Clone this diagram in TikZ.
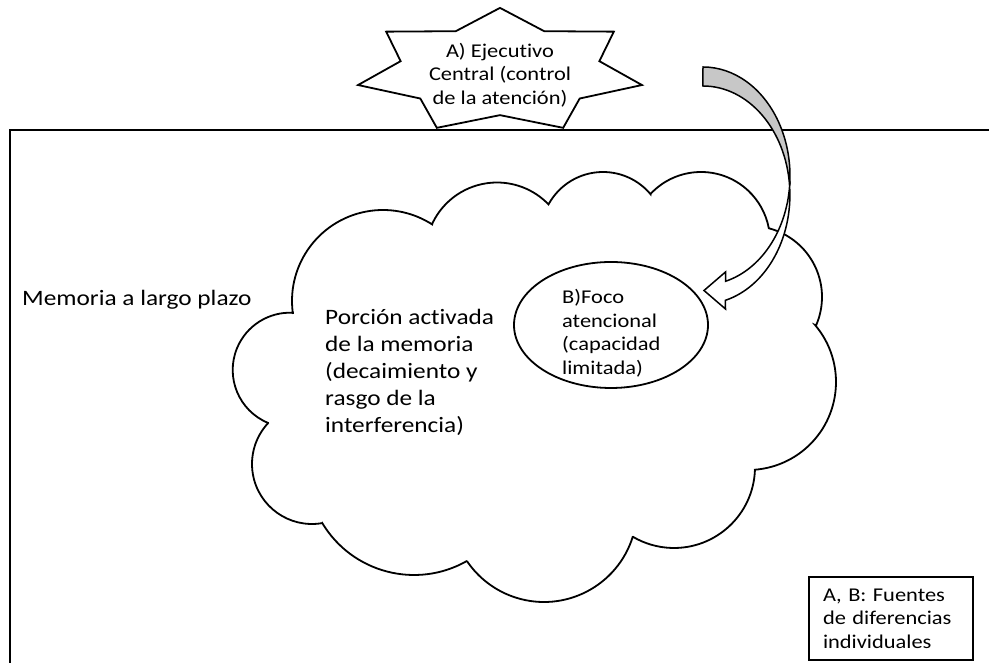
\documentclass[tikz,border=0pt]{standalone}
\usepackage{fontspec}
\setmainfont{Carlito}[FakeStretch=1.15, Ligatures=NoCommon]
\usetikzlibrary{shapes.geometric}

\tikzset{
    small/.style={font=\fontsize{19.5}{23.5}\selectfont, align=left, inner sep=0pt},
    big/.style={font=\fontsize{22}{27}\selectfont, align=left, inner sep=0pt},
    outline/.style={line width=1.8pt, black},
    puffarc/.style={outline, fill=white},
}

\begin{document}
\begin{tikzpicture}[x=1pt, y=1pt]
        \useasboundingbox (0,0) rectangle (989,663);
        \draw[outline, line width=2.2pt] (10,-20) -- (10,533) -- (1010,533);
        \node[big, anchor=base west] at (22, 357)(largo){Memoria a largo plazo};

        % nube
        \draw[puffarc] (293,350)
        \foreach \cx/\cy/\rad/\sa/\ea in {383/362/91/187.6/57.3, 497/409/71.5/154.2/43.9,
            603/429/62/150.9/39.8, 701/422/69/136.8/10.8, 751/366/71/75.4/-23.6,
            748/281/88/40.4/-85.5, 674/196/81/-2.1/-120.4, 544/154/93/-17.5/-146,
            414/195/107/-60.3/-149.1, 312/199/60/279.6/137, 290/293/57.3/247.5/87}
        { -- ([shift={(\sa:\rad)}]\cx,\cy) arc[start angle=\sa, end angle=\ea, radius=\rad] } -- cycle;
        \node[big, anchor=west] at (325, 291)(porcion){Porción activada\\de la memoria\\(decaimiento y\\rasgo de la\\interferencia)};

        % estrella
        \begin{scope}[shift={(500,592)}, x=145.6pt, y=63.1pt]
            \draw[outline, fill=white] (90:1)
            \foreach \k in {0,...,6} { -- ({90+\k*360/7}:1) -- ({90+(\k+0.5)*360/7}:0.7) } -- cycle;
        \end{scope}
        \node[small, align=center] at (500, 588)(ejecutivo){A) Ejecutivo\\Central (control\\de la atención)};

        \node[outline, draw, ellipse, minimum width=194pt, minimum height=126pt] at (611, 338)(foco){};
        \node[small, anchor=west] at (562, 330)(focotext){B)Foco\\atencional\\(capacidad\\limitada)};

        \node[small, outline, draw, text width=136pt, inner xsep=14pt, minimum height=83pt] at (891, 44.5)(fuentes){A, B: Fuentes\\de diferencias\\individuales};

        % flecha curva
        \filldraw[outline, line width=1.5pt, fill=black!22] (703,596)
            arc[start angle=90, end angle=-5.3, x radius=87, y radius=109]
            arc[start angle=4.7, end angle=90, x radius=87, y radius=109] -- cycle;
        \filldraw[outline, line width=1.5pt, fill=white] (789.6,476.9)
            arc[start angle=4.7, end angle=-75, x radius=87, y radius=109]
            -- (725.5,354) -- (704,372.5) -- (725.5,391) -- (725.5,381.7)
            arc[start angle=-75, end angle=-5.3, x radius=87, y radius=109] -- cycle;
    \end{tikzpicture}
\end{document}
